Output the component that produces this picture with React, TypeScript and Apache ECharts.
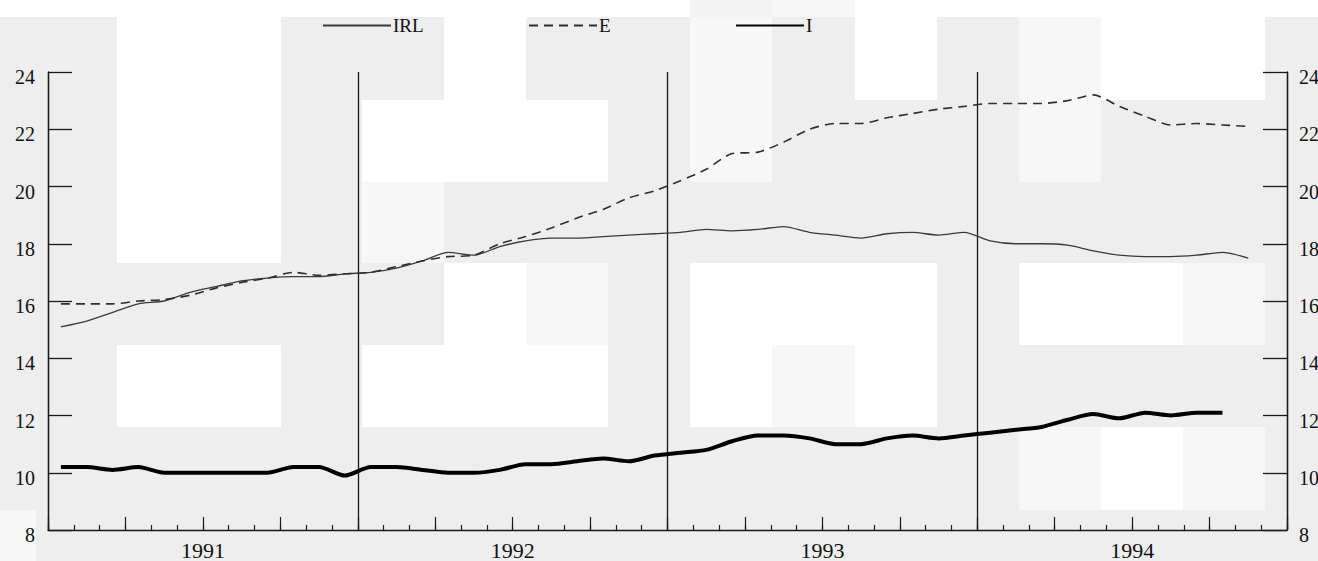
import React, { useEffect, useRef } from "react";
import * as echarts from "echarts";

const years = ["1991", "1992", "1993", "1994"];
const seriesNames = ["IRL", "E", "I"];

// Monthly values, Jan 1991 onwards
const irl = [
  15.1, 15.3, 15.6, 15.9, 16.0, 16.3, 16.5, 16.7, 16.8, 16.85, 16.85, 16.95,
  17.0, 17.15, 17.4, 17.7, 17.6, 17.9, 18.1, 18.2, 18.2, 18.25, 18.3, 18.35,
  18.4, 18.5, 18.45, 18.5, 18.6, 18.4, 18.3, 18.2, 18.35, 18.4, 18.3, 18.4,
  18.1, 18.0, 18.0, 17.95, 17.75, 17.6, 17.55, 17.55, 17.6, 17.7, 17.5,
];
const e = [
  15.9, 15.9, 15.9, 16.0, 16.05, 16.2, 16.45, 16.65, 16.8, 17.0, 16.9, 16.95,
  17.0, 17.2, 17.4, 17.55, 17.6, 18.0, 18.25, 18.55, 18.9, 19.2, 19.6, 19.85,
  20.2, 20.6, 21.15, 21.2, 21.55, 22.0, 22.2, 22.2, 22.4, 22.55, 22.7, 22.8,
  22.9, 22.9, 22.9, 23.0, 23.2, 22.8, 22.45, 22.15, 22.2, 22.15, 22.1,
];
const iSeries = [
  10.2, 10.2, 10.1, 10.2, 10.0, 10.0, 10.0, 10.0, 10.0, 10.2, 10.2, 9.9,
  10.2, 10.2, 10.1, 10.0, 10.0, 10.1, 10.3, 10.3, 10.4, 10.5, 10.4, 10.6,
  10.7, 10.8, 11.1, 11.3, 11.3, 11.2, 11.0, 11.0, 11.2, 11.3, 11.2, 11.3,
  11.4, 11.5, 11.6, 11.85, 12.05, 11.9, 12.1, 12.0, 12.1, 12.1,
];

const W = "#ffffff";
const L = "#f7f7f7";
// background patches of the scanned picture
const patches: [number, number, number, number, string][] = [
  [0, 0, 690, 17, W], [690, 0, 772, 17, "#f3f3f3"], [772, 0, 855, 17, L], [855, 0, 1318, 17, W],
  [117, 17, 281, 263, W], [444, 17, 526, 100, W], [855, 17, 937, 100, W], [1101, 17, 1265, 100, W],
  [690, 17, 772, 182, L], [1019, 17, 1101, 182, L],
  [362, 100, 608, 182, W], [362, 182, 444, 263, L],
  [444, 263, 526, 345, W], [526, 263, 608, 345, L], [690, 263, 937, 345, W], [1019, 263, 1183, 345, W], [1183, 263, 1265, 345, L],
  [117, 345, 281, 427, W], [362, 345, 608, 427, W], [690, 345, 772, 427, W], [772, 345, 855, 427, L], [855, 345, 937, 427, W],
  [1019, 427, 1101, 510, L], [1101, 427, 1183, 510, W], [1183, 427, 1265, 510, L],
  [0, 510, 36, 561, L],
];

const FONT = "'Liberation Serif', 'DejaVu Serif', serif";
const INK = "#1a1a1a";

const toPairs = (arr: number[]) => arr.map((v, i) => [i + 0.5, v]);

export default function App() {
  const ref = useRef<HTMLDivElement>(null);
  useEffect(() => {
    if (!ref.current) return;
    const chart = echarts.init(ref.current, null, { renderer: "svg" });
    const legendBase = {
      top: 16,
      padding: 0,
      itemWidth: 68,
      itemHeight: 14,
      itemGap: 0,
      itemStyle: { opacity: 0 },
      textStyle: { fontFamily: FONT, fontSize: 19, color: "#111", padding: [3, 0, 0, -3] },
      selectedMode: false,
    };
    const yLabel = (v: number) => `{t|${v}}`;
    const yRich = { t: { fontFamily: FONT, fontSize: 20, color: "#111", padding: [10, 0, 0, 0] } };
    chart.setOption({
      animation: false,
      backgroundColor: "#eeeeee",
      graphic: patches.map((p) => ({
        type: "rect",
        z: -100,
        silent: true,
        shape: { x: p[0], y: p[1], width: p[2] - p[0], height: p[3] - p[1] },
        style: { fill: p[4] },
      })),
      legend: [
        { ...legendBase, left: 322, data: [seriesNames[0]] },
        { ...legendBase, left: 528, data: [seriesNames[1]] },
        { ...legendBase, left: 735, data: [seriesNames[2]] },
      ],
      grid: { left: 48, right: 31, top: 72, bottom: 31, outerBoundsMode: "none", containLabel: false },
      xAxis: [
        {
          type: "value", min: 0, max: 48, interval: 1, position: "bottom",
          axisLine: { show: true, onZero: false, lineStyle: { color: INK, width: 1.3 } },
          axisTick: { show: true, inside: true, length: 5, lineStyle: { color: INK, width: 1.2 } },
          axisLabel: { show: false },
          splitLine: { show: false },
        },
        {
          type: "value", min: 0, max: 48, interval: 3, position: "bottom",
          axisLine: { show: false, onZero: false },
          axisTick: { show: true, inside: true, length: 13, lineStyle: { color: INK, width: 1.2 } },
          axisLabel: {
            show: true, margin: 9, fontFamily: FONT, fontSize: 22, color: "#111",
            formatter: (v: number) => (v % 12 === 6 ? years[(v - 6) / 12] : ""),
          },
          splitLine: { show: false },
        },
        {
          type: "value", min: 0, max: 48, interval: 12, position: "bottom",
          axisLine: { show: false, onZero: false },
          axisTick: { show: false },
          axisLabel: { show: false },
          splitLine: { show: true, lineStyle: { color: INK, width: 1.3 } },
        },
      ],
      yAxis: [
        {
          type: "value", min: 8, max: 24, interval: 2, position: "left",
          axisLine: { show: true, onZero: false, lineStyle: { color: INK, width: 1.3 } },
          axisTick: { show: true, inside: true, length: 24, lineStyle: { color: INK, width: 1.3 } },
          axisLabel: { margin: 13, formatter: yLabel, rich: yRich },
          splitLine: { show: false },
        },
        {
          type: "value", min: 8, max: 24, interval: 2, position: "right",
          axisLine: { show: true, onZero: false, lineStyle: { color: INK, width: 1.3 } },
          axisTick: { show: true, inside: true, length: 24, lineStyle: { color: INK, width: 1.3 } },
          axisLabel: { margin: 12, formatter: yLabel, rich: yRich },
          splitLine: { show: false },
        },
      ],
      series: [
        {
          name: seriesNames[0], type: "line", data: toPairs(irl), symbol: "none", smooth: 0.25,
          lineStyle: { color: "#3a3a3a", width: 1.3 }, itemStyle: { color: "#3a3a3a" },
        },
        {
          name: seriesNames[1], type: "line", data: toPairs(e), symbol: "none", smooth: 0.25,
          lineStyle: { color: "#2e2e2e", width: 1.6, type: [9, 6] }, itemStyle: { color: "#2e2e2e" },
        },
        {
          name: seriesNames[2], type: "line", data: toPairs(iSeries), symbol: "none", smooth: 0.25,
          lineStyle: { color: "#000", width: 4 }, itemStyle: { color: "#000" },
        },
      ],
    });
    return () => chart.dispose();
  }, []);
  return (
    <div
      ref={ref}
      style={{ position: "fixed", left: 0, top: 0, width: 1318, height: 561 }}
    />
  );
}
